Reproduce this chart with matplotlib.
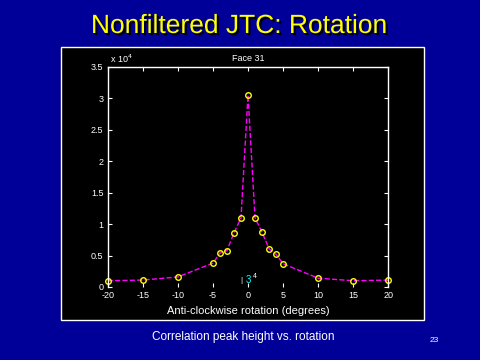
import matplotlib
matplotlib.use("Agg")
import matplotlib.pyplot as plt
from matplotlib.patches import Rectangle
import matplotlib.patheffects as pe

# Data (peak height in units of 1e4)
angles = [-20, -15, -10, -5, -4, -3, -2, -1, 0, 1, 2, 3, 4, 5, 10, 15, 20]
peak = [0.10, 0.11, 0.16, 0.38, 0.54, 0.58, 0.86, 1.10, 3.05,
        1.10, 0.87, 0.61, 0.52, 0.37, 0.14, 0.10, 0.11]
xticks = [-20, -15, -10, -5, 0, 5, 10, 15, 20]
yticks = [0, 0.5, 1, 1.5, 2, 2.5, 3, 3.5]
ytick_labels = ["0", "0.5", "1", "1.5", "2", "2.5", "3", "3.5"]

W, H = 480, 360
fig = plt.figure(figsize=(4.8, 3.6), dpi=100)
fig.patch.set_facecolor("#000099")
plt.rcParams["font.family"] = ["Liberation Sans", "DejaVu Sans"]

# black panel
panel = Rectangle((61 / W, 1 - 320 / H), (424 - 61) / W, (320 - 47) / H,
                  transform=fig.transFigure, facecolor="black",
                  edgecolor="white", linewidth=1.0, zorder=-10)
fig.patches.append(panel)

# slide title
fig.text(239 / W, 1 - 26 / H, "Nonfiltered JTC: Rotation", color="#ffff00",
         fontsize=19, ha="center", va="center",
         path_effects=[pe.withSimplePatchShadow(offset=(1.5, -1.5),
                                                shadow_rgbFace="black",
                                                alpha=1.0)])

ax = fig.add_axes([107.7 / W, 1 - 287 / H, (388.3 - 107.7) / W, (287 - 67) / H])
ax.set_zorder(5)
ax.set_facecolor("black")
ax.plot(angles, peak, color="#ff00ff", linestyle="--", linewidth=1.0,
        marker="o", markersize=4, markerfacecolor="none",
        markeredgecolor="#ffff00", markeredgewidth=1.0, clip_on=False)
ax.set_xlim(-20, 20)
ax.set_ylim(0, 3.5)
ax.set_xticks(xticks)
ax.set_xticklabels([str(t) for t in xticks])
ax.set_yticks(yticks)
ax.set_yticklabels(ytick_labels)
ax.tick_params(colors="white", direction="in", length=3, width=0.8,
               labelsize=6.5, top=True, right=True, pad=3)
for s in ["left", "top", "right"]:
    ax.spines[s].set_color("white")
    ax.spines[s].set_linewidth(1.0)
ax.spines["bottom"].set_visible(False)

ax.set_title("Face 31", color="white", fontsize=6.5, pad=4)
ax.set_xlabel("Anti-clockwise rotation (degrees)", color="white",
              fontsize=8, labelpad=4)
fig.text(110 / W, 1 - 59 / H, r"x 10$^4$", color="white", fontsize=6.5,
         ha="left", va="center", zorder=6)

# small overlapping marks near the origin
fig.text(241 / W, 1 - 281 / H, "|", color="white", fontsize=6, ha="center", va="center", zorder=6)
fig.text(248 / W, 1 - 280 / H, "3", color="#00ffff", fontsize=7, ha="center", va="center", zorder=6)
fig.text(255 / W, 1 - 276 / H, "4", color="white", fontsize=5, ha="center", va="center", zorder=6)

# caption and page number
fig.text(152 / W, 1 - 337 / H, "Correlation peak height vs. rotation",
         color="white", fontsize=8.5, ha="left", va="center")
fig.text(434 / W, 1 - 341 / H, "23", color="white", fontsize=6,
         ha="center", va="center")

fig.savefig("out.png", dpi=100, facecolor=fig.get_facecolor())
